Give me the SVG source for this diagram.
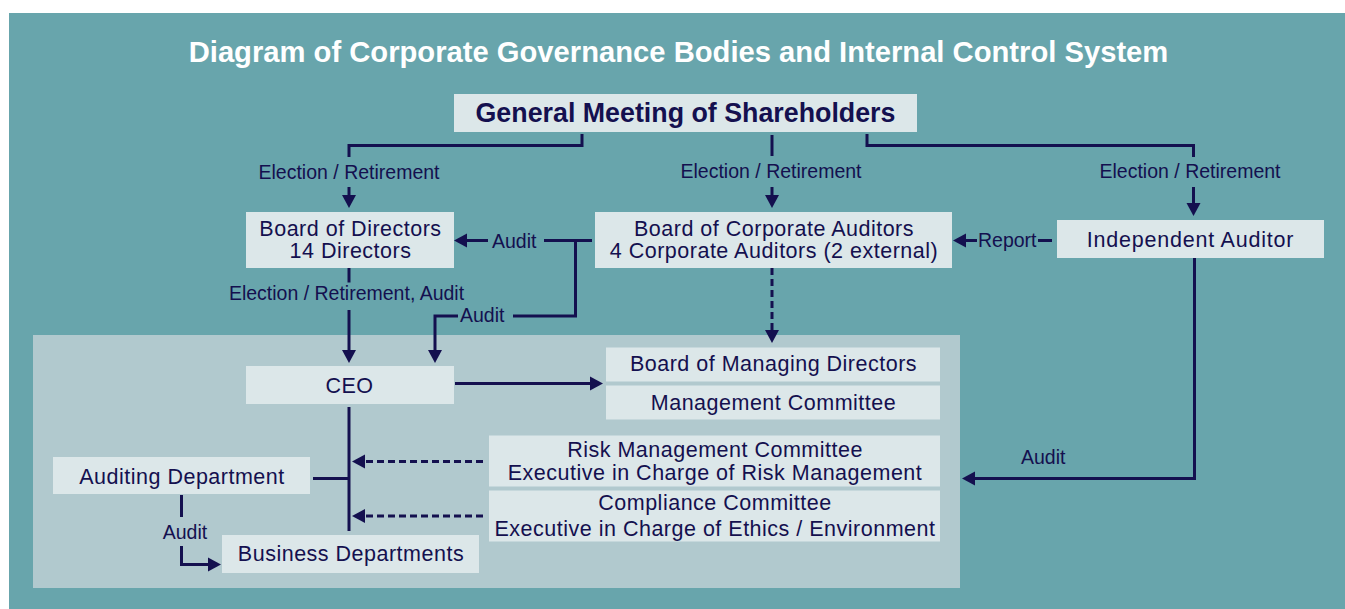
<svg xmlns="http://www.w3.org/2000/svg" width="1345" height="609" viewBox="0 0 1345 609">
  <defs>
    <style>
      .bg { fill: #68a5ac; }
      .panel { fill: #b1c9ce; }
      .box { fill: #dce7e9; }
      .title { font-family: "Liberation Sans", Arial, sans-serif; font-weight: bold; font-size: 29.2px; fill: #ffffff; text-anchor: middle; }
      .head { font-family: "Liberation Sans", Arial, sans-serif; font-weight: bold; font-size: 26.8px; fill: #14104f; text-anchor: middle; }
      .node { font-family: "Liberation Sans", Arial, sans-serif; font-size: 21.5px; letter-spacing: 0.5px; fill: #14104f; text-anchor: middle; }
      .wide { letter-spacing: 0.8px; }
      .lbl { font-family: "Liberation Sans", Arial, sans-serif; font-size: 19.5px; fill: #14104f; }
      .mid { text-anchor: middle; }
      .wire { fill: none; stroke: #14104f; stroke-width: 3; }
      .dash { stroke-dasharray: 7 4; }
      .arrow { marker-end: url(#head); }
    </style>
    <marker id="head" markerUnits="userSpaceOnUse" markerWidth="14" markerHeight="15" refX="3" refY="7.5" orient="auto" viewBox="0 0 14 15">
      <path d="M0,0.5 L13,7.5 L0,14.5 z" fill="#14104f"/>
    </marker>
  </defs>

  <!-- backdrop and internal-control panel -->
  <rect class="bg" x="9" y="13" width="1336" height="596"/>
  <rect class="panel" x="33" y="335" width="927" height="253"/>

  <text class="title" x="678.5" y="62">Diagram of Corporate Governance Bodies and Internal Control System</text>

  <!-- connectors -->
  <g id="connectors">
    <!-- shareholders to the three elected bodies -->
    <path class="wire" d="M582,134 V145.5 H349 V157"/>
    <path class="wire arrow" d="M349,187 V198"/>
    <text class="lbl mid" x="349" y="179">Election / Retirement</text>

    <path class="wire" d="M772,135 V156"/>
    <path class="wire arrow" d="M772,187 V198"/>
    <text class="lbl mid" x="771" y="177.5">Election / Retirement</text>

    <path class="wire" d="M867,134 V145.5 H1193.5 V157"/>
    <path class="wire arrow" d="M1193.5,187 V206"/>
    <text class="lbl mid" x="1190" y="178">Election / Retirement</text>

    <!-- corporate auditors audit the board and the CEO -->
    <path class="wire" d="M592,240.5 H544"/>
    <text class="lbl" x="492" y="248">Audit</text>
    <path class="wire arrow" d="M488,240.5 H464"/>
    <path class="wire" d="M575.5,240.5 V316 H513"/>
    <text class="lbl" x="460" y="322">Audit</text>
    <path class="wire arrow" d="M458,316 H435 V353"/>

    <!-- board to CEO -->
    <path class="wire" d="M349,268 V282.5"/>
    <text class="lbl mid" x="346.5" y="299.5">Election / Retirement, Audit</text>
    <path class="wire arrow" d="M349,310 V353"/>

    <!-- independent auditor report -->
    <path class="wire" d="M1052,240.5 H1038"/>
    <text class="lbl" x="978" y="247">Report</text>
    <path class="wire arrow" d="M977,240.5 H963"/>

    <!-- corporate auditors to managing directors -->
    <path class="wire dash arrow" d="M772,268 V333"/>

    <!-- CEO to managing directors -->
    <path class="wire arrow" d="M455,383.5 H593"/>

    <!-- CEO line of command -->
    <path class="wire" d="M349,407 V531"/>
    <path class="wire" d="M313,478.5 H349"/>
    <path class="wire dash arrow" d="M483,461.5 H362"/>
    <path class="wire dash arrow" d="M483,516 H362"/>

    <!-- internal audit of business departments -->
    <path class="wire" d="M181.5,495 V517"/>
    <text class="lbl mid" x="185" y="538.5">Audit</text>
    <path class="wire arrow" d="M181.5,546 V564.5 H211"/>

    <!-- independent auditor audit of the organisation -->
    <path class="wire arrow" d="M1194.5,258 V478.5 H972"/>
    <text class="lbl" x="1021" y="463.5">Audit</text>
  </g>

  <!-- nodes -->
  <g id="shareholders">
    <rect class="box" x="454" y="94" width="463" height="38"/>
    <text class="head" x="685.5" y="122">General Meeting of Shareholders</text>
  </g>
  <g id="board-of-directors">
    <rect class="box" x="246" y="212" width="208" height="56"/>
    <text class="node" x="350.5" y="236">Board of Directors</text>
    <text class="node" x="350.5" y="258">14 Directors</text>
  </g>
  <g id="corporate-auditors">
    <rect class="box" x="595" y="212" width="357" height="56"/>
    <text class="node" x="774" y="236">Board of Corporate Auditors</text>
    <text class="node" x="774" y="258">4 Corporate Auditors (2 external)</text>
  </g>
  <g id="independent-auditor">
    <rect class="box" x="1057" y="220" width="267" height="38"/>
    <text class="node wide" x="1190.5" y="247">Independent Auditor</text>
  </g>
  <g id="ceo">
    <rect class="box" x="246" y="366" width="208" height="38"/>
    <text class="node" x="349.5" y="393">CEO</text>
  </g>
  <g id="managing-directors">
    <rect class="box" x="606" y="347.5" width="334" height="34"/>
    <text class="node" x="773.5" y="371">Board of Managing Directors</text>
  </g>
  <g id="management-committee">
    <rect class="box" x="606" y="385.5" width="334" height="34"/>
    <text class="node" x="773.5" y="410">Management Committee</text>
  </g>
  <g id="risk-management">
    <rect class="box" x="489" y="435.5" width="451" height="51"/>
    <text class="node" x="715" y="457">Risk Management Committee</text>
    <text class="node" x="715" y="480">Executive in Charge of Risk Management</text>
  </g>
  <g id="compliance">
    <rect class="box" x="489" y="490.5" width="451" height="51"/>
    <text class="node" x="715" y="510">Compliance Committee</text>
    <text class="node" x="715" y="536">Executive in Charge of Ethics / Environment</text>
  </g>
  <g id="auditing-department">
    <rect class="box" x="53" y="457" width="257" height="37"/>
    <text class="node" x="182" y="484">Auditing Department</text>
  </g>
  <g id="business-departments">
    <rect class="box" x="222" y="535" width="257" height="38"/>
    <text class="node" x="351" y="561">Business Departments</text>
  </g>
</svg>
